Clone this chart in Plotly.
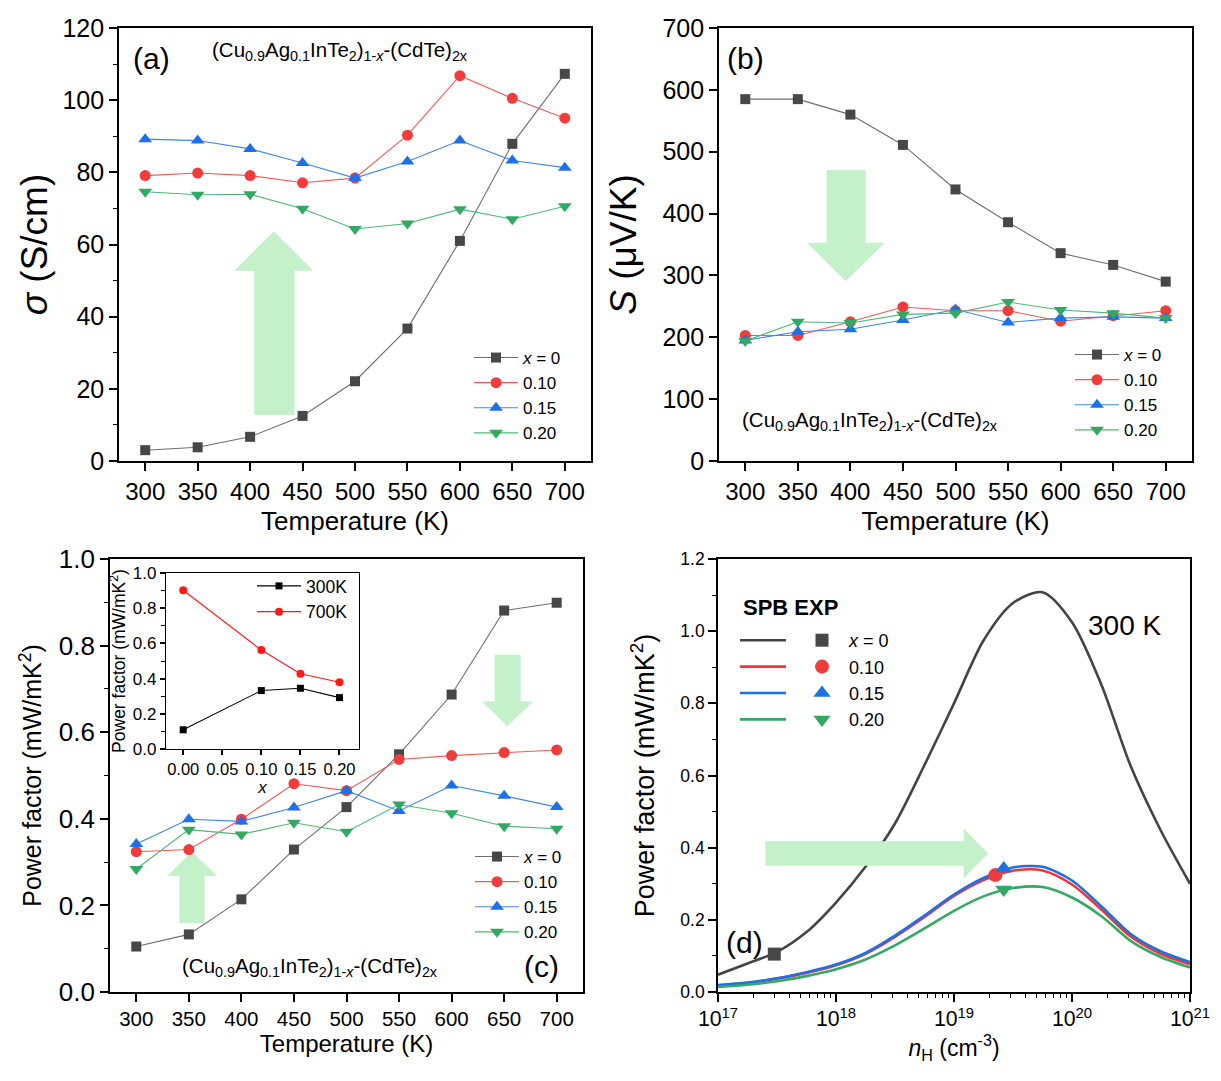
import plotly.graph_objects as go

# ---------------- data ----------------
T = [300, 350, 400, 450, 500, 550, 600, 650, 700]
series_labels = ["<i>x</i> = 0", "0.10", "0.15", "0.20"]

sigma_x0 = [3.0, 3.8, 6.7, 12.5, 22.1, 36.7, 61.0, 87.9, 107.3]
sigma_x10 = [79.1, 79.8, 79.1, 77.1, 78.4, 90.3, 106.8, 100.5, 95.0]
sigma_x15 = [89.2, 88.8, 86.5, 82.6, 78.4, 83.0, 88.8, 83.3, 81.3]
sigma_x20 = [74.6, 73.8, 73.9, 69.9, 64.3, 65.8, 69.8, 67.0, 70.6]

S_x0 = [585, 585, 560, 511, 439, 386, 336, 317, 290]
S_x10 = [203, 203, 225, 249, 243, 243, 226, 235, 243]
S_x15 = [195, 209, 213, 228, 245, 224, 231, 233, 231]
S_x20 = [194, 225, 223, 237, 239, 257, 244, 239, 231]

PF_x0 = [0.105, 0.133, 0.214, 0.329, 0.427, 0.549, 0.687, 0.881, 0.899]
PF_x10 = [0.324, 0.329, 0.399, 0.481, 0.465, 0.537, 0.546, 0.553, 0.559]
PF_x15 = [0.342, 0.399, 0.394, 0.426, 0.465, 0.418, 0.477, 0.453, 0.427]
PF_x20 = [0.284, 0.375, 0.364, 0.391, 0.370, 0.433, 0.413, 0.383, 0.377]

inset_x = [0.00, 0.10, 0.15, 0.20]
inset_300K = [0.109, 0.332, 0.345, 0.292]
inset_700K = [0.902, 0.562, 0.428, 0.379]
inset_labels = ["300K", "700K"]

nH_grid = [1.0e17, 1.778e17, 3.162e17, 5.623e17, 1.0e18, 1.778e18, 3.162e18, 5.623e18,
           1.0e19, 1.778e19, 3.162e19, 5.623e19, 1.0e20, 1.778e20, 3.162e20, 5.623e20, 1.0e21]
spb_x0 = [0.048, 0.079, 0.111, 0.166, 0.248, 0.347, 0.467, 0.629, 0.800, 0.974, 1.078, 1.108,
          1.025, 0.851, 0.624, 0.449, 0.300]
spb_x10 = [0.0185, 0.025, 0.037, 0.053, 0.074, 0.106, 0.153, 0.208, 0.266, 0.310, 0.336, 0.337,
           0.298, 0.228, 0.153, 0.106, 0.077]
spb_x15 = [0.019, 0.026, 0.038, 0.055, 0.076, 0.108, 0.156, 0.212, 0.270, 0.316, 0.345, 0.347,
           0.309, 0.237, 0.160, 0.113, 0.083]
spb_x20 = [0.014, 0.020, 0.030, 0.044, 0.063, 0.090, 0.129, 0.176, 0.225, 0.265, 0.288, 0.291,
           0.262, 0.210, 0.141, 0.097, 0.068]

nH_exp = [3.0e17, 2.24e19, 2.64e19, 2.64e19]
PF_exp_300K = [0.105, 0.324, 0.342, 0.284]

# ---------------- style ----------------
FONT = "Liberation Sans, Arial, sans-serif"
marker_colors = ["#474747", "#f23c3c", "#1f6fe6", "#33a862"]
line_colors = ["#6e6e6e", "#f25a5a", "#3f86ee", "#4fb878"]
spb_colors = ["#444444", "#ef3535", "#1f6fe6", "#35a864"]
symbols = ["square", "circle", "triangle-up", "triangle-down"]
msizes = [10, 11, 12, 12]
ARROW = "#c4f0ca"

W, H = 1213, 1073   # page body has an 8px margin
OFF = 8

fig = go.Figure()

def add_series(xa, ya, ydata_list, legend):
    for i, yd in enumerate(ydata_list):
        fig.add_trace(go.Scatter(
            x=T, y=yd, mode="lines+markers", name=series_labels[i],
            line=dict(color=line_colors[i], width=1.1),
            marker=dict(symbol=symbols[i], size=msizes[i], color=marker_colors[i]),
            xaxis=xa, yaxis=ya, legend=legend))

add_series("x", "y", [sigma_x0, sigma_x10, sigma_x15, sigma_x20], "legend")
add_series("x2", "y2", [S_x0, S_x10, S_x15, S_x20], "legend2")
add_series("x3", "y3", [PF_x0, PF_x10, PF_x15, PF_x20], "legend3")

# inset
fig.add_trace(go.Scatter(x=inset_x, y=inset_300K, mode="lines+markers", name=inset_labels[0],
                         line=dict(color="black", width=1.1),
                         marker=dict(symbol="square", size=7, color="black"),
                         xaxis="x5", yaxis="y5", legend="legend4"))
fig.add_trace(go.Scatter(x=inset_x, y=inset_700K, mode="lines+markers", name=inset_labels[1],
                         line=dict(color="#ff1a1a", width=1.1),
                         marker=dict(symbol="circle", size=8, color="#ff1a1a"),
                         xaxis="x5", yaxis="y5", legend="legend4"))

# panel d: SPB lines
for i, yd in enumerate([spb_x0, spb_x10, spb_x15, spb_x20]):
    fig.add_trace(go.Scatter(x=nH_grid, y=yd, mode="lines", name=" ",
                             line=dict(color=spb_colors[i], width=2.6, shape="spline", smoothing=0.8),
                             xaxis="x4", yaxis="y4", legend="legend5"))
# panel d: experimental points
for i in range(4):
    fig.add_trace(go.Scatter(x=[nH_exp[i]], y=[PF_exp_300K[i]], mode="markers", name=series_labels[i],
                             marker=dict(symbol=symbols[i], size=msizes[i] + 3, color=marker_colors[i]),
                             xaxis="x4", yaxis="y4", legend="legend6"))


def ax(tsize, **kw):
    d = dict(showline=True, linecolor="black", linewidth=1.6, mirror=True, ticks="outside",
             ticklen=8, tickwidth=1.5, tickcolor="black", showgrid=False, zeroline=False,
             automargin=False,
             tickfont=dict(size=tsize, color="black", family=FONT))
    d.update(kw)
    return d

def minor(dt):
    return dict(dtick=dt, ticks="outside", ticklen=4, tickwidth=1.3, tickcolor="black", showgrid=False)

def ttl(text, size, standoff=None):
    d = dict(text=text, font=dict(size=size, color="black", family=FONT))
    if standoff is not None:
        d["standoff"] = standoff
    return d

def px(xp):
    return (xp - OFF) / W

def py(yp):
    return 1 - (yp - OFF) / H

layout = dict(
    width=W, height=H, margin=dict(l=0, r=0, t=0, b=0, autoexpand=False),
    paper_bgcolor="white", plot_bgcolor="white",
    font=dict(family=FONT, color="black"),
    xaxis=ax(24, domain=[px(119), px(591)], range=[275, 725], tick0=300, dtick=50,
             anchor="y", title=ttl("Temperature (K)", 26, 8)),
    yaxis=ax(25, domain=[py(461), py(28)], range=[0, 120], dtick=20, minor=minor(10),
             anchor="x", title=ttl("<i>σ</i> (S/cm)", 37, 4)),
    xaxis2=ax(24, domain=[px(719), px(1192)], range=[275, 725], tick0=300, dtick=50,
              anchor="y2", title=ttl("Temperature (K)", 26, 8)),
    yaxis2=ax(25, domain=[py(461), py(28)], range=[0, 700], dtick=100,
              anchor="x2", title=ttl("<i>S</i> (μV/K)", 37, 15)),
    xaxis3=ax(20.5, domain=[px(110), px(583)], range=[275, 725], tick0=300, dtick=50,
              anchor="y3", title=ttl("Temperature (K)", 24, 6)),
    yaxis3=ax(26, domain=[py(992), py(559)], range=[0, 1.0], dtick=0.2, tickformat=".1f",
              minor=minor(0.1), anchor="x3", title=ttl("Power factor (mW/mK<sup>2</sup>)", 25, 10)),
    xaxis4=ax(17, domain=[px(718), px(1190)], type="log", range=[17, 21], dtick=1,
              exponentformat="power", minor=dict(dtick="D1", ticks="outside", ticklen=4,
                                                 tickwidth=1.3, tickcolor="black", showgrid=False),
              anchor="y4", title=ttl("<i>n</i><sub>H</sub> (cm<sup>-3</sup>)", 23, 8)),
    yaxis4=ax(17.5, domain=[py(992), py(559)], range=[0, 1.2], dtick=0.2, tickformat=".1f",
              minor=minor(0.1), anchor="x4", title=ttl("Power factor (mW/mK<sup>2</sup>)", 27, 18)),
    xaxis5=ax(16.5, domain=[px(166), px(359)], range=[-0.022, 0.225], tick0=0, dtick=0.05,
              tickformat=".2f", ticklen=5, linewidth=1.3, anchor="y5",
              title=ttl("<i>x</i>", 17, 2)),
    yaxis5=ax(17, domain=[py(749), py(573)], range=[0, 1.0], dtick=0.2, tickformat=".1f",
              ticklen=5, linewidth=1.3, minor=minor(0.1), anchor="x5",
              title=ttl("Power factor (mW/mK<sup>2</sup>)", 17.5, 2)),
)

def leg(x, y, size, itemwidth=44):
    return dict(x=x, y=y, xanchor="left", yanchor="top", bgcolor="rgba(0,0,0,0)",
                font=dict(size=size, color="black", family=FONT), itemwidth=itemwidth,
                tracegroupgap=0, borderwidth=0)

layout["legend"] = leg(px(469), py(340), 17)
layout["legend2"] = leg(px(1070), py(337), 17)
layout["legend3"] = leg(px(470), py(839), 17)
layout["legend4"] = leg(px(252), py(568), 17.5)
layout["legend5"] = leg(px(735), py(622), 18, itemwidth=46)
layout["legend6"] = leg(px(795), py(622), 18, itemwidth=44)

fig.update_layout(**layout)

# ---------------- annotations ----------------
formula = "(Cu<sub>0.9</sub>Ag<sub>0.1</sub>InTe<sub>2</sub>)<sub>1-<i>x</i></sub>-(CdTe)<sub>2x</sub>"

def note(text, x, y, size, bold=False):
    if bold:
        text = "<b>" + text + "</b>"
    fig.add_annotation(text=text, x=px(x), y=py(y), xref="paper", yref="paper",
                       xanchor="left", yanchor="middle", showarrow=False,
                       font=dict(size=size, color="black", family=FONT))

note("(a)", 131, 59, 30)
note(formula, 210, 51, 20.5)
note("(b)", 725, 59, 30)
note(formula, 740, 421, 20.5)
note("(c)", 522, 966, 30)
note(formula, 180, 967, 20.5)
note("(d)", 724, 942, 30)
note("300 K", 1086, 625, 28)
note("SPB EXP", 741, 607, 22, bold=True)

# ---------------- arrows ----------------
def vpath(x0, x1, hx0, hx1, ybase, yhead, tipx, tipy):
    return (f"M{x0},{ybase} L{x1},{ybase} L{x1},{yhead} L{hx1},{yhead} "
            f"L{tipx},{tipy} L{hx0},{yhead} L{x0},{yhead} Z")

arrow_style = dict(type="path", fillcolor=ARROW, line=dict(width=0), layer="below")
fig.add_shape(path=vpath(404, 442.4, 385, 460, 12.75, 52.7, 422.6, 63.7), xref="x", yref="y", **arrow_style)
fig.add_shape(path=vpath(377.3, 414.5, 358.8, 432.7, 470.6, 353, 395.5, 290.7), xref="x2", yref="y2", **arrow_style)
fig.add_shape(path=vpath(341, 365, 329.3, 377, 0.159, 0.268, 353, 0.324), xref="x3", yref="y3", **arrow_style)
fig.add_shape(path=vpath(641, 665.7, 629, 677.6, 0.779, 0.671, 653, 0.614), xref="x3", yref="y3", **arrow_style)
fig.add_shape(type="path", fillcolor=ARROW, line=dict(width=0), layer="above",
              path=("M0.1005,0.350 L0.5205,0.350 L0.5205,0.315 L0.5723,0.384 "
                    "L0.5205,0.453 L0.5205,0.418 L0.1005,0.418 Z"),
              xref="x4 domain", yref="y4")

fig.write_html("out.html")
